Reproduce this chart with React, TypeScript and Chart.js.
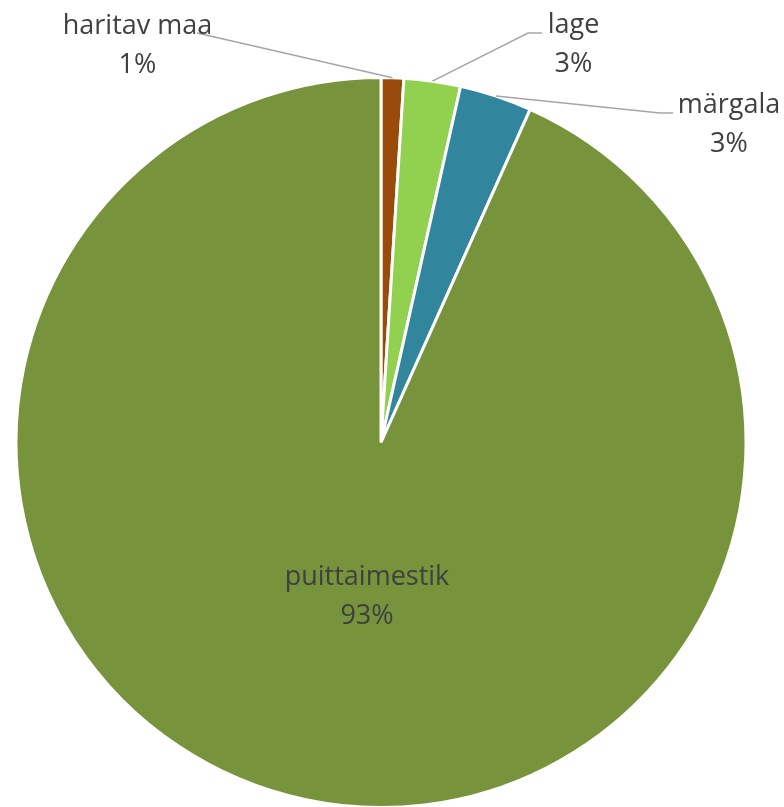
import React, { useEffect, useRef } from "react";
import { Chart, registerables } from "chart.js";

Chart.register(...registerables);

const categories = ["haritav maa", "lage", "märgala", "puittaimestik"];
const values = [1.0, 2.5, 3.2, 93.3];
const colors = ["#9A4A0B", "#92D050", "#31859C", "#77933C"];

// label layout: text centre x, first baseline y, optional leader start and elbow
const labelLayout = [
  { x: 137.5, y: 34, lead: [197, 33], elbow: null as number[] | null },
  { x: 573.5, y: 33, lead: [542, 33], elbow: [528, 33] },
  { x: 729, y: 113, lead: [673, 113], elbow: [660, 113] },
  { x: 367, y: 585, lead: null as number[] | null, elbow: null as number[] | null },
];

const FONT = '27px "Open Sans", "Noto Sans", sans-serif';
const TEXT_COLOR = "#404040";
const LINE_COLOR = "#A6A6A6";
const LINE_GAP = 39;

const labelPlugin = {
  id: "pieLabels",
  afterDatasetsDraw(chart: any) {
    const ctx = chart.ctx as CanvasRenderingContext2D;
    const meta = chart.getDatasetMeta(0);
    const data = chart.data.datasets[0].data as number[];
    const total = data.reduce((a, b) => a + b, 0);
    ctx.save();
    meta.data.forEach((arc: any, i: number) => {
      const L = labelLayout[i];
      const { x, y, startAngle, endAngle, outerRadius } = arc.getProps(
        ["x", "y", "startAngle", "endAngle", "outerRadius"],
        true
      );
      if (L.lead) {
        const mid = (startAngle + endAngle) / 2;
        const ex = x + Math.cos(mid) * outerRadius;
        const ey = y + Math.sin(mid) * outerRadius;
        ctx.beginPath();
        ctx.strokeStyle = LINE_COLOR;
        ctx.lineWidth = 1.5;
        ctx.moveTo(L.lead[0], L.lead[1]);
        if (L.elbow) ctx.lineTo(L.elbow[0], L.elbow[1]);
        ctx.lineTo(ex, ey);
        ctx.stroke();
      }
      ctx.fillStyle = TEXT_COLOR;
      ctx.font = FONT;
      ctx.textAlign = "center";
      ctx.textBaseline = "alphabetic";
      ctx.fillText(String(chart.data.labels[i]), L.x, L.y);
      const pct = Math.round((data[i] / total) * 100) + "%";
      ctx.fillText(pct, L.x, L.y + LINE_GAP);
    });
    ctx.restore();
  },
};

export default function App() {
  const ref = useRef<HTMLCanvasElement>(null);
  useEffect(() => {
    if (!ref.current) return;
    const chart = new Chart(ref.current, {
      type: "pie",
      data: {
        labels: categories,
        datasets: [
          {
            data: values,
            backgroundColor: colors,
            borderColor: "#FFFFFF",
            borderWidth: 3,
          },
        ],
      },
      options: {
        animation: false,
        responsive: false,
        maintainAspectRatio: false,
        layout: { padding: { left: 14.5, right: 36.5, top: 76, bottom: 0 } },
        plugins: {
          legend: { display: false },
          tooltip: { enabled: false },
        },
      },
      plugins: [labelPlugin],
    });
    return () => chart.destroy();
  }, []);
  return (
    <div style={{ position: "absolute", left: 0, top: 0, width: 784, height: 809, background: "#fff" }}>
      <canvas ref={ref} width={784} height={809} style={{ display: "block" }} />
    </div>
  );
}
